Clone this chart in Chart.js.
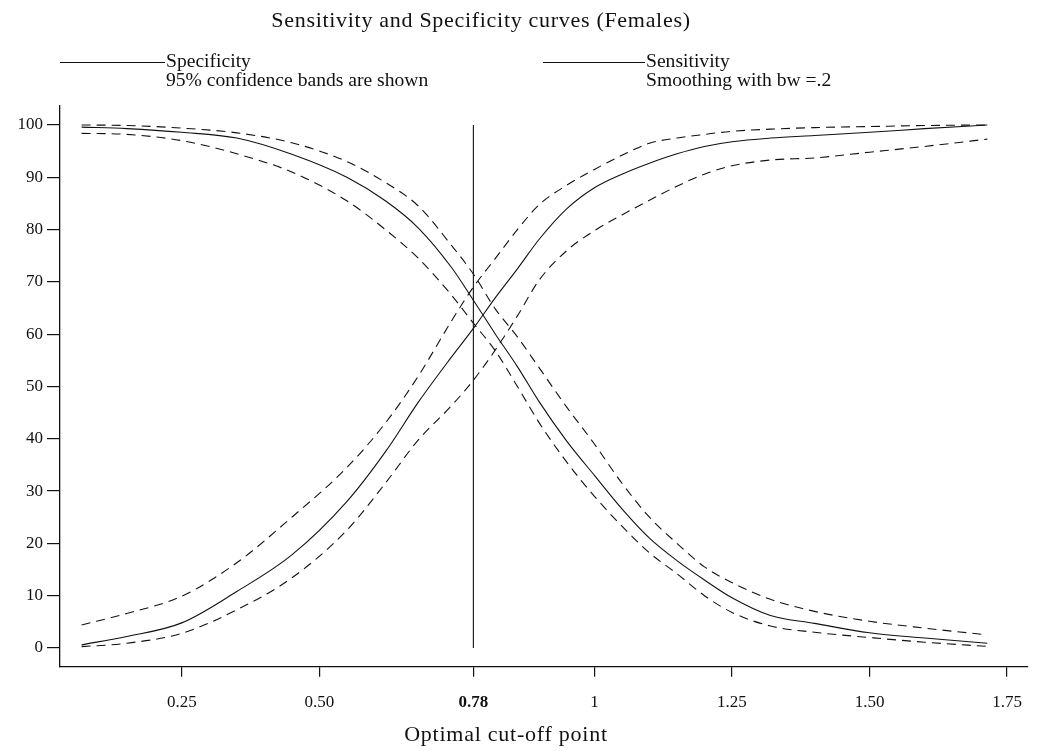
<!DOCTYPE html>
<html>
<head>
<meta charset="utf-8">
<script src="https://cdn.jsdelivr.net/npm/chart.js@4.4.0/dist/chart.umd.min.js"></script>
<style>
  html, body { margin: 0; padding: 0; background: #fff; }
  #wrap { position: relative; width: 1039px; height: 751px; overflow: hidden; font-family: "Liberation Serif", "Times New Roman", serif; color: #000; }
  canvas { position: absolute; left: 0; top: 0; }
  .txt { position: absolute; white-space: nowrap; font-family: "Liberation Serif", "Times New Roman", serif; color: #111; }
  .lgline { position: absolute; height: 0; border-top: 1px solid #111; }
</style>
</head>
<body>
<div id="wrap">
  <canvas id="c" width="1039" height="751"></canvas>
  <div class="txt" id="title" style="left:0; width:962px; text-align:center; top:8px; font-size:22px; line-height:24px; letter-spacing:0.7px;">Sensitivity and Specificity curves (Females)</div>
  <div class="lgline" style="left:60px; width:105px; top:62px;"></div>
  <div class="txt" style="left:166px; top:51px; font-size:19.6px; line-height:19px;">Specificity</div>
  <div class="txt" style="left:166px; top:70px; font-size:19.6px; line-height:19px;">95% confidence bands are shown</div>
  <div class="lgline" style="left:543px; width:102px; top:62px;"></div>
  <div class="txt" style="left:646px; top:51px; font-size:19.6px; line-height:19px;">Sensitivity</div>
  <div class="txt" style="left:646px; top:70px; font-size:19.6px; line-height:19px;">Smoothing with bw =.2</div>
  <div class="txt" id="xtitle" style="left:306px; width:400px; text-align:center; top:722px; font-size:22px; line-height:24px; letter-spacing:0.75px;">Optimal cut-off point</div>
</div>
<script>
// ---- data ----
const cutoffs = [0.068, 0.15, 0.25, 0.35, 0.45, 0.55, 0.62, 0.68, 0.74, 0.78, 0.82, 0.86, 0.90, 0.95, 1.00, 1.05, 1.10, 1.15, 1.20, 1.25, 1.32, 1.40, 1.50, 1.60, 1.714];

const specificity      = [99.6, 99.3, 98.6, 97.5, 94.4, 90.0, 85.5, 80.3, 72.8, 66.5, 60.0, 53.8, 47.0, 39.5, 33.0, 26.6, 21.0, 16.7, 13.0, 9.6, 6.2, 4.7, 2.9, 1.9, 0.9];
const specificityUpper = [100, 99.9, 99.4, 98.5, 96.6, 93.0, 89.0, 84.5, 77.0, 71.5, 64.8, 59.5, 53.5, 46.0, 39.0, 31.5, 25.0, 20.0, 15.5, 12.5, 9.3, 7.0, 5.1, 3.8, 2.5];
const specificityLower = [98.4, 98.2, 97.0, 94.5, 91.0, 85.5, 80.0, 74.5, 67.5, 62.1, 56.8, 50.0, 43.0, 35.5, 29.0, 23.3, 18.2, 14.2, 10.0, 6.8, 4.2, 3.0, 2.0, 1.1, 0.3];

const sensitivity      = [0.6, 2.2, 4.8, 10.8, 17.8, 28.0, 37.5, 47.0, 55.6, 61.1, 67.0, 72.5, 78.2, 84.0, 88.0, 90.6, 92.7, 94.5, 95.9, 96.8, 97.5, 98.0, 98.6, 99.3, 100];
const sensitivityUpper = [4.4, 6.6, 9.9, 16.3, 25.0, 34.5, 43.0, 52.0, 62.5, 69.0, 74.5, 80.0, 84.8, 88.5, 91.5, 94.2, 96.5, 97.5, 98.2, 98.8, 99.2, 99.5, 99.7, 99.9, 100];
const sensitivityLower = [0.25, 0.9, 2.8, 7.3, 13.4, 22.5, 31.5, 39.8, 46.3, 51.2, 57.0, 63.5, 70.4, 76.0, 79.8, 82.8, 85.6, 88.3, 90.6, 92.2, 93.3, 93.7, 94.8, 95.9, 97.3];

const optimalCutoff = 0.78;
const optimalLineY = [0, 100];

const xTickValues = [0.25, 0.5, 0.78, 1, 1.25, 1.5, 1.75];
const xTickLabels = ['0.25', '0.50', '0.78', '1', '1.25', '1.50', '1.75'];
const yTickValues = [0, 10, 20, 30, 40, 50, 60, 70, 80, 90, 100];

// ---- chart ----
const FONT = '"Liberation Serif", "Times New Roman", serif';
const INK = '#111';
const pts = ys => cutoffs.map((x, i) => ({ x: x, y: ys[i] }));

function curve(label, ys, dashed) {
  return {
    label: label,
    data: pts(ys),
    showLine: true,
    borderColor: INK,
    borderWidth: 1.1,
    borderDash: dashed ? [9, 6] : [],
    pointRadius: 0,
    fill: false,
    cubicInterpolationMode: 'monotone'
  };
}

new Chart(document.getElementById('c'), {
  type: 'scatter',
  data: {
    datasets: [
      curve('Specificity', specificity, false),
      curve('Specificity upper 95%', specificityUpper, true),
      curve('Specificity lower 95%', specificityLower, true),
      curve('Sensitivity', sensitivity, false),
      curve('Sensitivity upper 95%', sensitivityUpper, true),
      curve('Sensitivity lower 95%', sensitivityLower, true),
      {
        label: 'Optimal cut-off',
        data: optimalLineY.map(y => ({ x: optimalCutoff, y: y })),
        showLine: true,
        borderColor: INK,
        borderWidth: 1.1,
        pointRadius: 0,
        fill: false
      }
    ]
  },
  options: {
    responsive: false,
    animation: false,
    events: [],
    layout: { padding: { top: 106, right: 11, left: 0, bottom: 0 } },
    plugins: {
      legend: { display: false },
      tooltip: { enabled: false },
      title: { display: false }
    },
    scales: {
      x: {
        type: 'linear',
        min: 0.0287,
        max: 1.788,
        afterBuildTicks: s => { s.ticks = xTickValues.map(v => ({ value: v })); },
        afterFit: s => { s.height = 84.3; },
        grid: { drawOnChartArea: false, tickLength: 10, color: INK, lineWidth: 1.2 },
        border: { color: INK, width: 1.3 },
        ticks: {
          autoSkip: false,
          maxRotation: 0,
          padding: 16,
          color: INK,
          font: ctx => ({ family: FONT, size: 17, weight: (ctx.tick && ctx.tick.value === optimalCutoff) ? 'bold' : 'normal' }),
          callback: (v) => { const i = xTickValues.indexOf(v); return i >= 0 ? xTickLabels[i] : ''; }
        }
      },
      y: {
        type: 'linear',
        min: -3.58,
        max: 103.63,
        afterBuildTicks: s => { s.ticks = yTickValues.map(v => ({ value: v })); },
        afterFit: s => { s.width = 60; },
        grid: { drawOnChartArea: false, tickLength: 13, color: INK, lineWidth: 1.2 },
        border: { color: INK, width: 1.3 },
        ticks: {
          autoSkip: false,
          padding: 4,
          color: INK,
          font: { family: FONT, size: 17 },
          callback: v => String(v)
        }
      }
    }
  }
});
</script>
</body>
</html>
